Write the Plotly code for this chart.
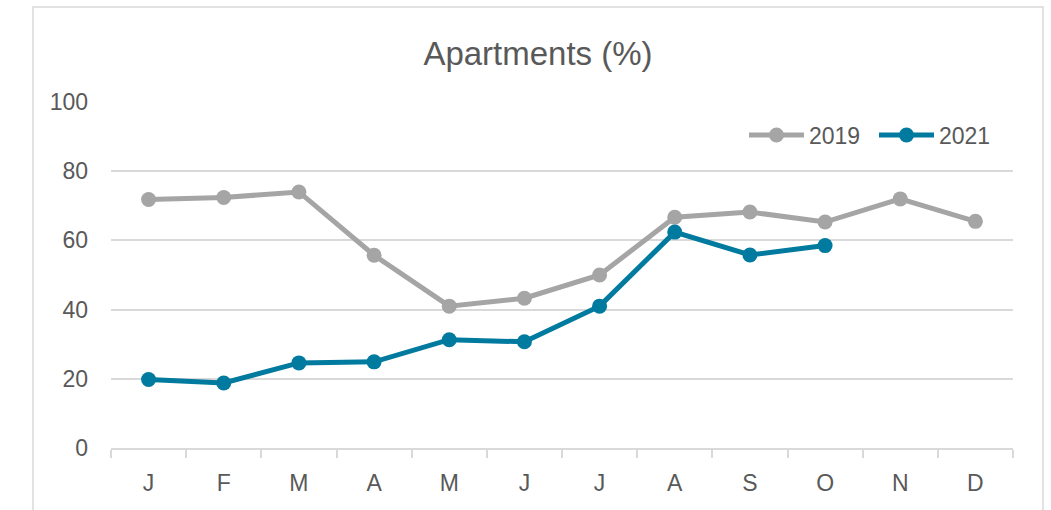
import plotly.graph_objects as go

months = ["J", "F", "M", "A", "M", "J", "J", "A", "S", "O", "N", "D"]
x_idx = list(range(12))
boundaries = [i - 0.5 for i in range(13)]
y2019 = [71.8, 72.4, 74.0, 55.7, 41.0, 43.3, 50.0, 66.7, 68.2, 65.3, 72.0, 65.5]
y2021 = [19.8, 18.8, 24.6, 24.9, 31.3, 30.7, 41.0, 62.4, 55.8, 58.5]
series_names = ["2019", "2021"]
colors = ["#A5A5A5", "#007A9E"]

W, H = 1051, 510
L, R, T, B = 111, 38, 102, 62
pw, ph = W - L - R, H - T - B

fig = go.Figure()
for name, ys, c in zip(series_names, [y2019, y2021], colors):
    fig.add_trace(go.Scatter(
        x=x_idx[:len(ys)], y=ys, name=name, mode="lines+markers",
        line=dict(color=c, width=5),
        marker=dict(color=c, size=15),
    ))

font_fam = "Liberation Sans, Arial, sans-serif"
fig.update_layout(
    width=W, height=H,
    margin=dict(l=L, r=R, t=T, b=B),
    paper_bgcolor="white", plot_bgcolor="white",
    font=dict(family=font_fam, color="#595959", size=23),
    title=dict(text="Apartments (%)", x=(538 - L) / pw, xref="paper",
               xanchor="center", y=1 - 53 / H, yanchor="middle",
               font=dict(size=33, color="#595959")),
    showlegend=True,
    legend=dict(orientation="h", x=(744 - L) / pw, xanchor="left",
                y=(448 - 135) / ph, yanchor="middle",
                font=dict(size=23, color="#595959"),
                bgcolor="rgba(0,0,0,0)", itemwidth=55, traceorder="normal",
                entrywidth=60, entrywidthmode="pixels"),
    xaxis=dict(
        tickmode="array", tickvals=x_idx, ticktext=months,
        range=[-0.5, 11.5], showgrid=False,
        showline=True, linecolor="#D9D9D9", linewidth=1.5,
        ticks="", ticklabelstandoff=14, zeroline=False,
        minor=dict(tickmode="array", tickvals=boundaries, ticks="outside",
                   ticklen=8, tickcolor="#D9D9D9", tickwidth=1.5,
                   showgrid=False),
    ),
    yaxis=dict(
        range=[0, 100], tickvals=[0, 20, 40, 60, 80, 100],
        showgrid=True, gridcolor="#D9D9D9", gridwidth=1.5,
        showline=False, zeroline=False, ticks="",
        ticklabelstandoff=22,
    ),
)

fig.add_shape(type="rect", xref="paper", yref="paper",
              x0=(33 - L) / pw, x1=(1043 - L) / pw,
              y0=(448 - 520) / ph, y1=(448 - 7) / ph,
              line=dict(color="#D9D9D9", width=1.5), fillcolor="rgba(0,0,0,0)",
              layer="below")

fig.write_html("out.html", config={"displayModeBar": False},
               post_script="document.body.style.margin='0';")
